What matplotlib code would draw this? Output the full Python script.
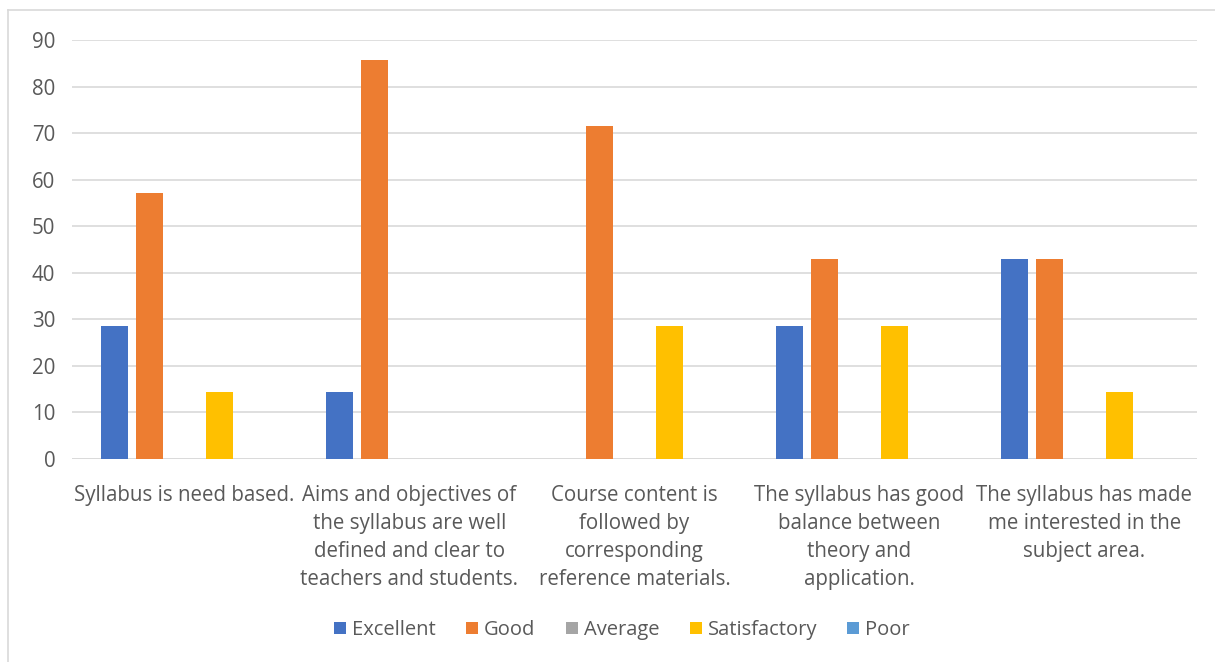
import numpy as np
import matplotlib.pyplot as plt
from matplotlib.lines import Line2D

plt.rcParams['font.family'] = ['Open Sans', 'DejaVu Sans']

categories = ["Syllabus is need based.",
              "Aims and objectives of\nthe syllabus are well\ndefined and clear to\nteachers and students.",
              "Course content is\nfollowed by\ncorresponding\nreference materials.",
              "The syllabus has good\nbalance between\ntheory and\napplication.",
              "The syllabus has made\nme interested in the\nsubject area."]
series = ["Excellent", "Good", "Average", "Satisfactory", "Poor"]
excellent = [28.57, 14.29, 0, 28.57, 42.86]
good = [57.14, 85.71, 71.43, 42.86, 42.86]
average = [0, 0, 0, 0, 0]
satisfactory = [14.29, 0, 28.57, 28.57, 14.29]
poor = [0, 0, 0, 0, 0]
colors = ["#4472C4", "#ED7D31", "#A5A5A5", "#FFC000", "#5B9BD5"]

values = [excellent, good, average, satisfactory, poor]
txt = "#595959"

fig = plt.figure(figsize=(12.15, 6.62), dpi=100)
ax = fig.add_axes([72/1215, 1-459/662, 1125/1215, 419/662])

x = np.arange(len(categories))
step = 0.1556
w = 0.12
for i, (name, vals, c) in enumerate(zip(series, values, colors)):
    ax.bar(x + (i-2)*step, vals, width=w, color=c, label=name, zorder=3)

ax.set_xlim(-0.5, 4.5)
ax.set_ylim(0, 90)
ax.set_yticks(range(0, 91, 10))
ax.yaxis.grid(True, color="#D9D9D9", linewidth=1.2, zorder=0)
for s in ax.spines.values():
    s.set_visible(False)
ax.axhline(0, color="#D9D9D9", linewidth=1.2, zorder=2)
ax.tick_params(axis='both', length=0, colors=txt, labelsize=14.8)
ax.tick_params(axis='y', pad=12)
ax.set_xticks(x)
ax.set_xticklabels(categories, linespacing=1.43, va='top')
ax.tick_params(axis='x', pad=19)

leg = fig.legend(loc='center', bbox_to_anchor=(622/1215, 1-630/662), ncol=5, frameon=False,
                 fontsize=14.5, handlelength=0.6, handleheight=0.6, handletextpad=0.3,
                 columnspacing=1.5, labelcolor=txt)

# outer chart frame
fig.add_artist(Line2D([8/1215, 8/1215], [0, 1-10/662], color="#D9D9D9", lw=1.2))
fig.add_artist(Line2D([8/1215, 1], [1-10/662, 1-10/662], color="#D9D9D9", lw=1.2))

fig.savefig("out.png", dpi=100)
